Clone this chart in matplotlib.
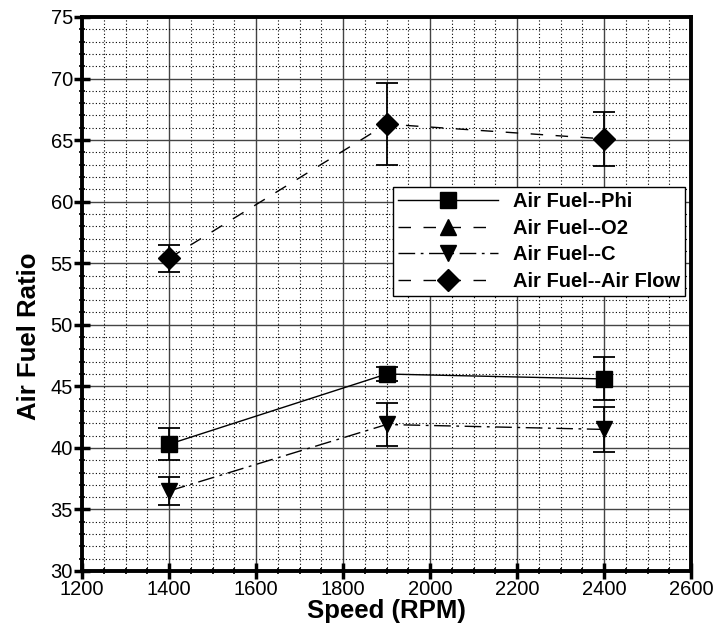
import matplotlib

matplotlib.use("Agg")
import matplotlib.pyplot as plt
from matplotlib.lines import Line2D
from matplotlib.ticker import MultipleLocator

plt.rcParams["font.family"] = ["Liberation Sans", "DejaVu Sans"]

speed = [1400, 1900, 2400]

phi = [40.3, 46.0, 45.6]
phi_err = [1.3, 0.6, 1.75]

o2 = []          # only appears in the legend
o2_err = []

carbon = [36.5, 41.9, 41.5]
carbon_err = [1.1, 1.75, 1.8]

air_flow = [55.4, 66.3, 65.1]
air_flow_err = [1.1, 3.3, 2.2]

labels = ["Air Fuel--Phi", "Air Fuel--O2", "Air Fuel--C", "Air Fuel--Air Flow"]

dash_long = (0, (9, 9))
dash_dot = (0, (12, 4, 2, 4))

fig = plt.figure(figsize=(7.15, 6.25), dpi=100)
ax = fig.add_axes([0.1147, 0.0864, 0.852, 0.8864])

ax.set_xlim(1200, 2600)
ax.set_ylim(30, 75)
ax.xaxis.set_major_locator(MultipleLocator(200))
ax.xaxis.set_minor_locator(MultipleLocator(50))
ax.yaxis.set_major_locator(MultipleLocator(5))
ax.yaxis.set_minor_locator(MultipleLocator(1))

ax.grid(which="major", color="#444444", linestyle="-", linewidth=1.0)
ax.grid(which="minor", color="black", linestyle=(0, (1, 2)), linewidth=0.8)
ax.set_axisbelow(True)

err_kw = dict(ecolor="black", elinewidth=1.3, capsize=8, capthick=1.3, zorder=3)

ax.errorbar(speed, phi, yerr=phi_err, color="black", linestyle="-", linewidth=1.0,
            marker="s", markersize=11, **err_kw)
ax.plot(o2, o2, color="black", linestyle=dash_long, linewidth=1.0, marker="^", markersize=12)
ax.errorbar(speed, carbon, yerr=carbon_err, color="black", linestyle=dash_dot,
            linewidth=1.0, marker="v", markersize=12, **err_kw)
ax.errorbar(speed, air_flow, yerr=air_flow_err, color="black", linestyle=dash_long,
            linewidth=1.0, marker="D", markersize=11, **err_kw)

for side in ax.spines.values():
    side.set_linewidth(2.8)

ax.tick_params(which="major", direction="inout", length=11, width=2.5, labelsize=14.5, pad=1)
ax.tick_params(which="minor", direction="inout", length=5, width=1.2)

ax.set_xlabel("Speed (RPM)", fontsize=18.5, fontweight="bold", labelpad=0)
ax.set_ylabel("Air Fuel Ratio", fontsize=18.5, fontweight="bold")
ax.yaxis.set_label_coords(-0.067, 0.424)

handles = [
    Line2D([], [], color="black", linestyle="-", linewidth=1.0, marker="s", markersize=11),
    Line2D([], [], color="black", linestyle=dash_long, linewidth=1.0, marker="^", markersize=12),
    Line2D([], [], color="black", linestyle=dash_dot, linewidth=1.0, marker="v", markersize=12),
    Line2D([], [], color="black", linestyle=dash_long, linewidth=1.0, marker="D", markersize=11),
]
leg = ax.legend(handles, labels, loc="upper left", bbox_to_anchor=(0.51, 0.693),
                fancybox=False, framealpha=1, edgecolor="black", handlelength=5.0,
                prop=dict(weight="bold", size=14.5), borderaxespad=0,
                labelspacing=0.38, handletextpad=0.7, borderpad=0.25)
leg.get_frame().set_linewidth(1.0)

fig.savefig("out.png", dpi=100)
